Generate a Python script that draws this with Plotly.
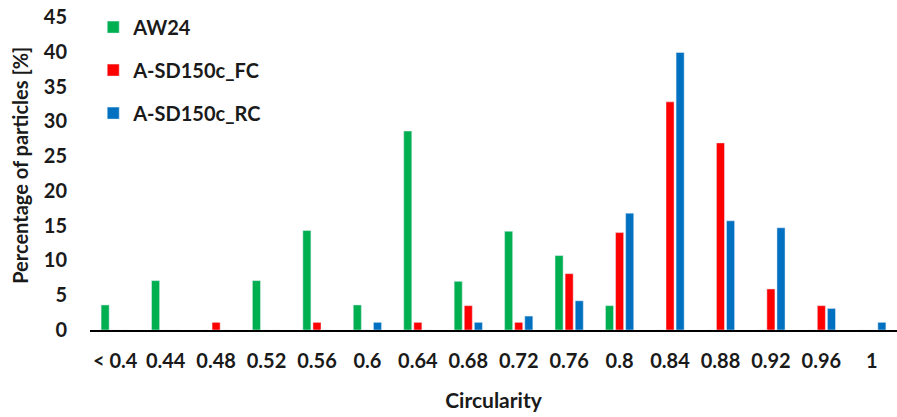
import plotly.graph_objects as go

categories = ["< 0.4", "0.44", "0.48", "0.52", "0.56", "0.6", "0.64", "0.68",
              "0.72", "0.76", "0.8", "0.84", "0.88", "0.92", "0.96", "1"]
aw24 = [3.6, 7.1, 0, 7.1, 14.3, 3.6, 28.6, 7.0, 14.2, 10.7, 3.5, 0, 0, 0, 0, 0]
sd150c_fc = [0, 0, 1.1, 0, 1.1, 0, 1.1, 3.5, 1.1, 8.1, 14.0, 32.8, 26.9, 5.9, 3.5, 0]
sd150c_rc = [0, 0, 0, 0, 0, 1.1, 0, 1.1, 2.0, 4.2, 16.8, 39.9, 15.7, 14.7, 3.1, 1.1]

FONT = "Lato"
TXT = "#1a1a1a"

fig = go.Figure()
fig.add_trace(go.Bar(name="AW24", x=categories, y=aw24, marker_color="#00B050", legendgroup="a"))
fig.add_trace(go.Bar(name="A-SD150c_FC", x=categories, y=sd150c_fc, marker_color="#FF0000", legendgroup="b"))
fig.add_trace(go.Bar(name="A-SD150c_RC", x=categories, y=sd150c_rc, marker_color="#0070C0", legendgroup="c"))

fig.update_layout(
    width=897, height=417,
    margin=dict(l=90, r=0, t=17, b=87),
    paper_bgcolor="white", plot_bgcolor="white",
    barmode="group", bargap=0.4, bargroupgap=0.2,
    font=dict(family=FONT, size=20, color=TXT),
    showlegend=True,
    legend=dict(x=0.004, y=1.03, xanchor="left", yanchor="top",
                font=dict(family=FONT, size=20, color=TXT, weight="bold"),
                tracegroupgap=14, bgcolor="rgba(0,0,0,0)"),
    xaxis=dict(
        showgrid=False, showline=True, linecolor="black", linewidth=2,
        ticks="", ticklabelstandoff=12,
        tickfont=dict(family=FONT, size=20, weight="bold", color=TXT),
        title=dict(text="Circularity", font=dict(family=FONT, size=21, weight="bold", color=TXT), standoff=22),
    ),
    yaxis=dict(
        range=[0, 45], dtick=5, showgrid=False, showline=False, zeroline=False,
        ticks="", ticklabelstandoff=22,
        tickfont=dict(family=FONT, size=20, weight="bold", color=TXT),
    ),
    annotations=[dict(
        text="Percentage of particles [%]", textangle=-90,
        xref="paper", yref="paper", x=-0.087, y=0.527,
        xanchor="center", yanchor="middle", showarrow=False,
        font=dict(family=FONT, size=20, weight="bold", color=TXT),
    )],
)

fig.write_html("out.html")
